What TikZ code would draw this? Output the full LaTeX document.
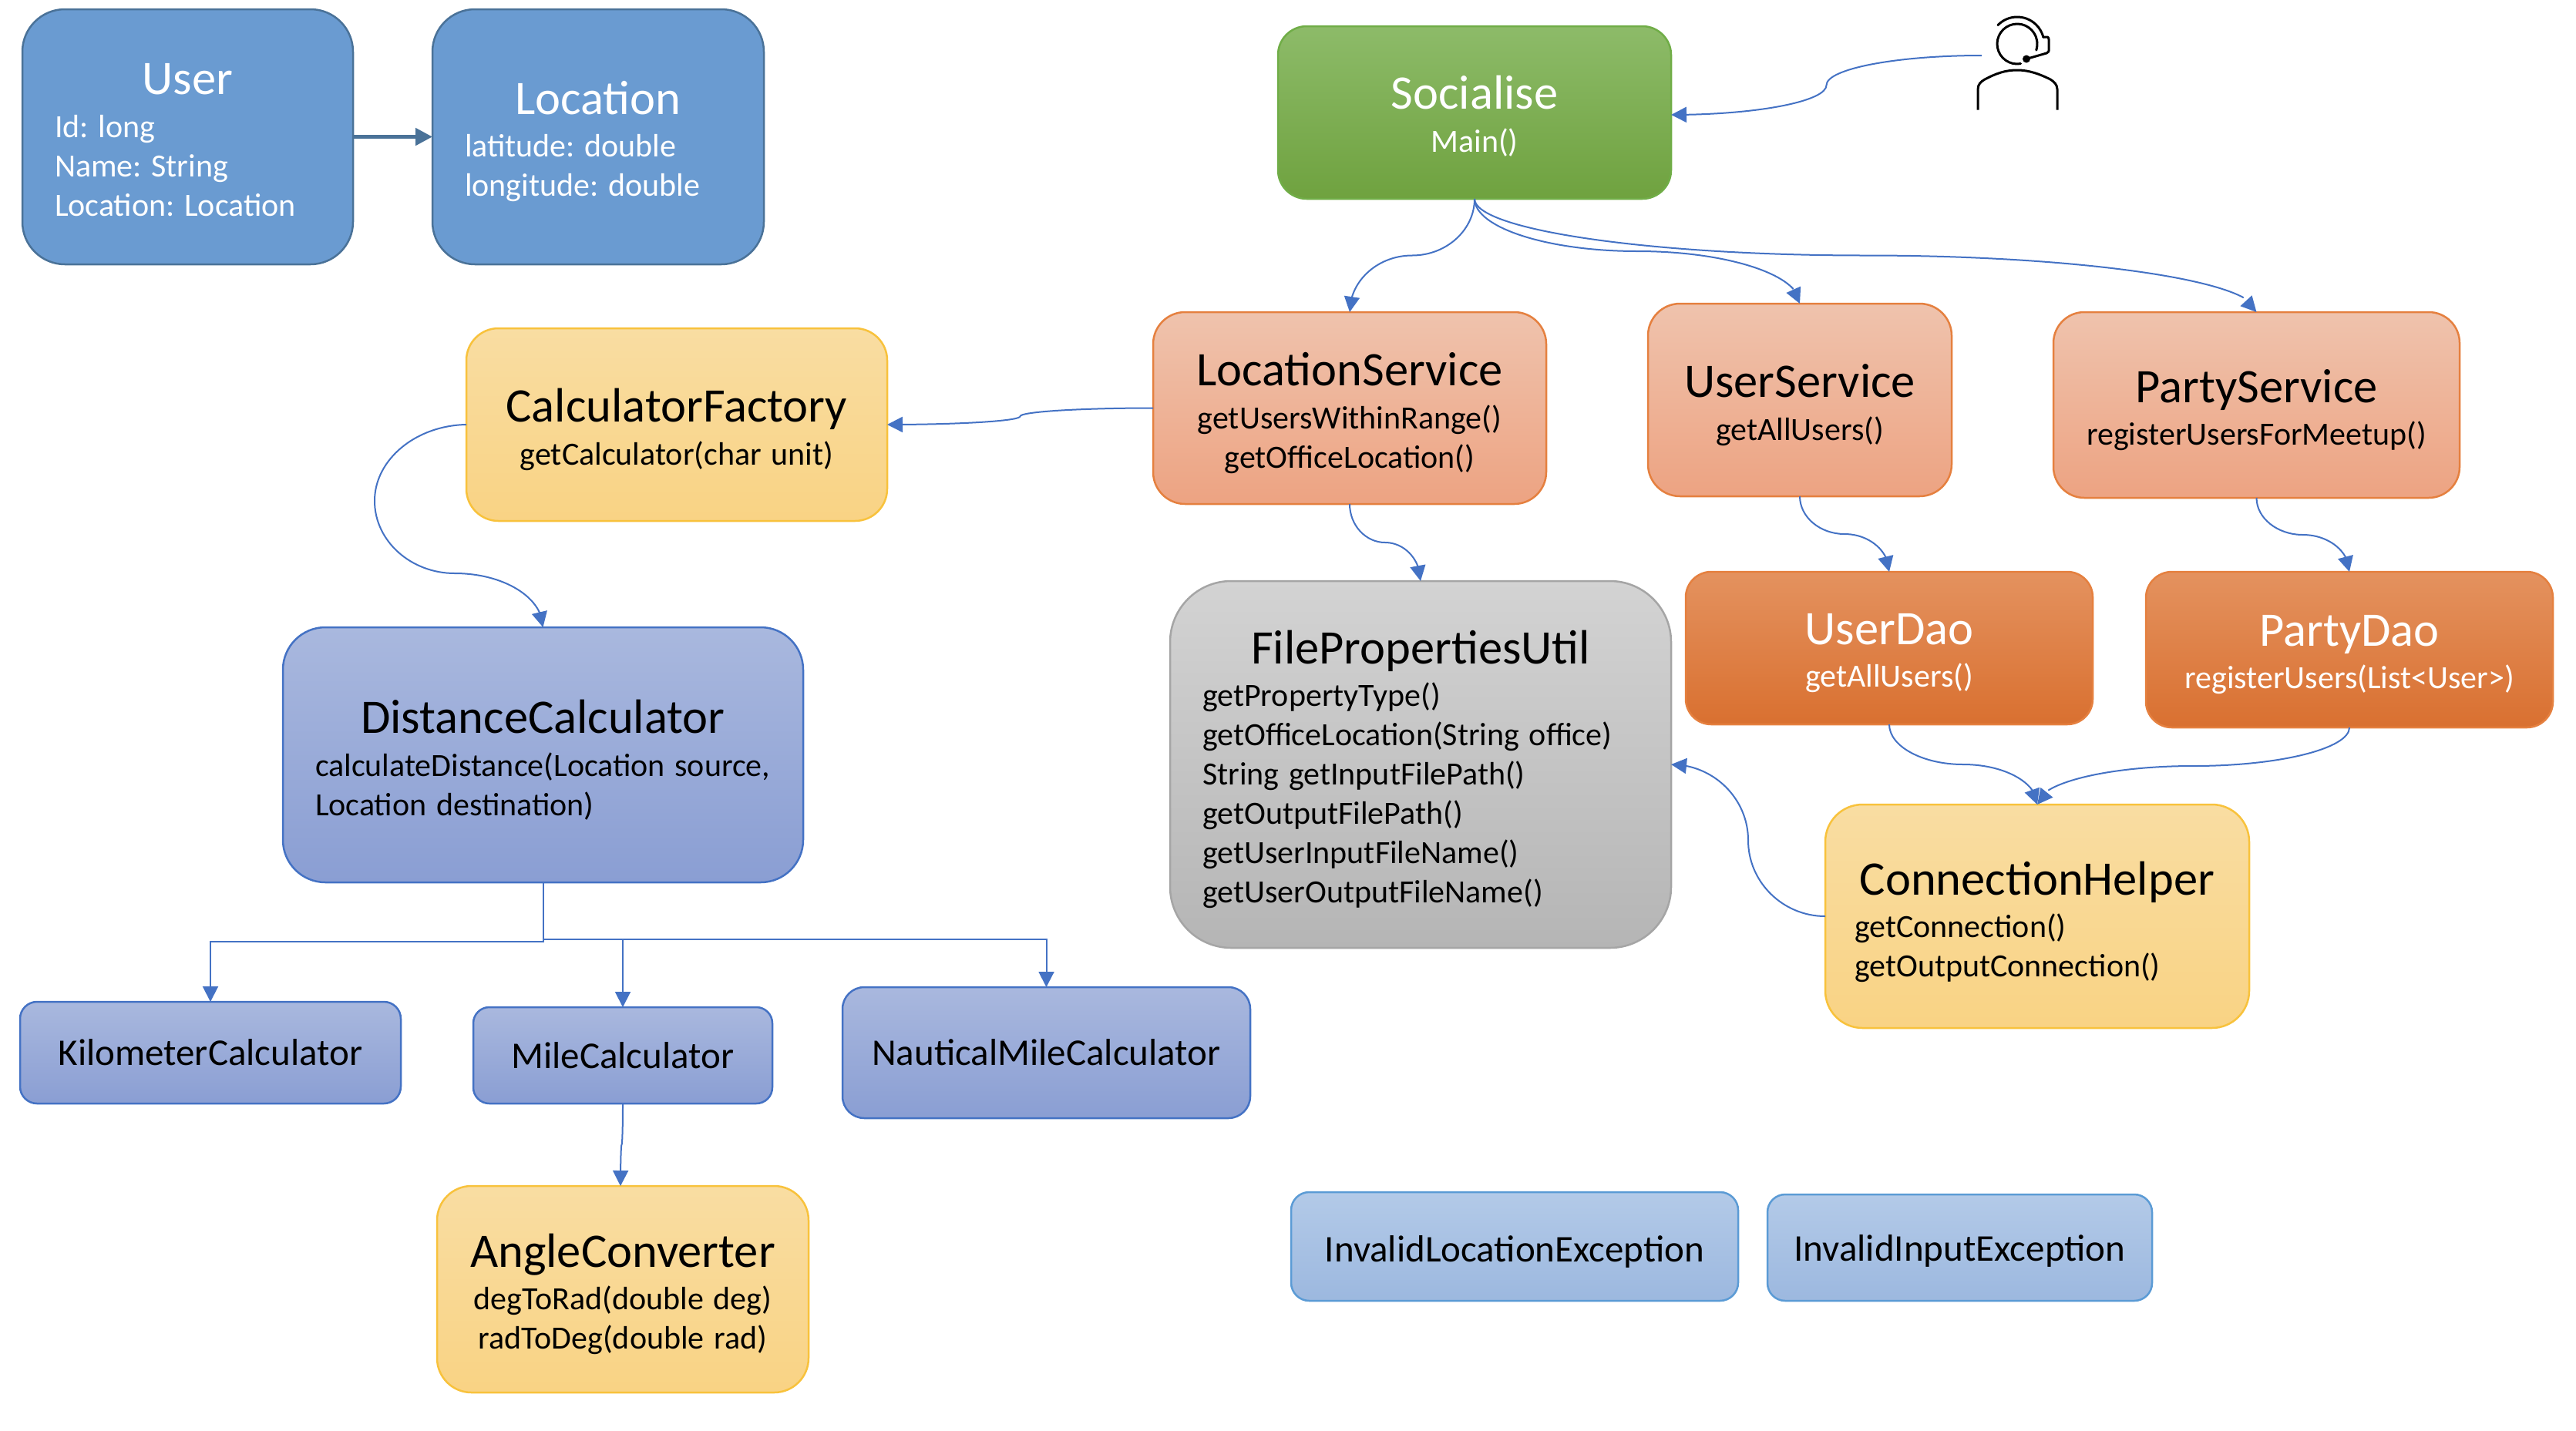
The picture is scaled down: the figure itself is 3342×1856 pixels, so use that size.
\documentclass[tikz,border=0pt]{standalone}
\usepackage{fontspec}
\setmainfont{Carlito}
\usetikzlibrary{arrows.meta,calc,bending}
\definecolor{connblue}{HTML}{4472C4}
\tikzset{
  conn/.style={draw=connblue,line width=2pt,-{Triangle[length=20pt,width=20pt]}},
  elbowline/.style={draw=connblue,line width=2pt,-{Triangle[length=20pt,width=20pt]}},
  thickconn/.style={draw=linkblue,line width=5pt,-{Triangle[length=22pt,width=22pt]}},
  basebox/.style={shape=rectangle,inner sep=0pt,outer sep=0pt,line width=2.5pt},
  flatblue/.style={basebox,fill=flatfill,draw=linkblue,text=white},
  greenbox/.style={basebox,top color=greenT,bottom color=greenB,draw=greenD,text=white},
  servicebox/.style={basebox,top color=servT,bottom color=servB,draw=orangeD},
  daobox/.style={basebox,top color=daoT,bottom color=daoB,draw=orangeD,text=white},
  yellowbox/.style={basebox,top color=yelT,bottom color=yelB,draw=yelD},
  lavbox/.style={basebox,top color=lavT,bottom color=lavB,draw=connblue},
  excbox/.style={basebox,top color=excT,bottom color=excB,draw=excD},
  greybox/.style={basebox,top color=greyT,bottom color=greyB,draw=greyD},
  person/.style={draw=black,line width=3pt,line cap=round,line join=round}
}
\definecolor{flatfill}{HTML}{6A9BD1}
\definecolor{linkblue}{HTML}{4A7298}
\definecolor{greenT}{HTML}{8DBB69}
\definecolor{greenB}{HTML}{6FA23F}
\definecolor{greenD}{HTML}{70AD47}
\definecolor{servT}{HTML}{EFC3AD}
\definecolor{servB}{HTML}{EDA382}
\definecolor{orangeD}{HTML}{E5803F}
\definecolor{daoT}{HTML}{E4925F}
\definecolor{daoB}{HTML}{D97030}
\definecolor{yelT}{HTML}{F9DDA2}
\definecolor{yelB}{HTML}{F9D384}
\definecolor{yelD}{HTML}{F8C23C}
\definecolor{lavT}{HTML}{A9B8DE}
\definecolor{lavB}{HTML}{8A9ED3}
\definecolor{excT}{HTML}{B3CAE8}
\definecolor{excB}{HTML}{9CB8DF}
\definecolor{excD}{HTML}{5B9BD5}
\definecolor{greyT}{HTML}{D3D3D3}
\definecolor{greyB}{HTML}{B5B5B5}
\definecolor{greyD}{HTML}{A5A5A5}
\newcommand\spc{\spaceskip=.30em\xspaceskip=.30em\relax}
\newcommand\TT[1]{{\centering\fontsize{62.5}{74}\selectfont\spc #1\par}\vspace{4.5pt}}
\newcommand\BC[1]{{\centering\fontsize{42}{51}\selectfont\spc #1\par}}
\newcommand\BL[1]{{\raggedright\fontsize{42}{51}\selectfont\spc #1\par}}
\newcommand\ONE[1]{{\centering\fontsize{49}{60}\selectfont\makebox[\linewidth]{#1}\par}}
% [lowering of the text], name, x1, y1, x2, y2, style, content
\newcommand\bx[8][2.5]{%
  \pgfmathsetmacro\bw{#5-#3}\pgfmathsetmacro\bh{#6-#4}%
  \pgfmathsetmacro\br{min(\bw,\bh)/6}%
  \pgfmathsetmacro\btw{\bw-84}%
  \node[#7,rounded corners=\br pt,minimum width=\bw pt,minimum height=\bh pt]
    (#2) at ({(#3+#5)/2},{(#4+#6)/2}) {\raisebox{-#1pt}[0pt][0pt]{\parbox{\btw pt}{#8}}};}
\newcommand\vcurve[2]{\draw[conn] let \p1=(#1),\p2=(#2),\n1={(\x1+\x2)/2},\n2={(\y1+\y2)/2} in
  (#1) .. controls (\x1,{\y1+0.55*(\n2-\y1)}) and ({\n1-0.55*(\n1-\x1)},\n2) .. (\n1,\n2)
  .. controls ({\n1+0.55*(\x2-\n1)},\n2) and (\x2,{\y2-0.55*(\y2-\n2)}) .. (#2);}
\newcommand\hcurve[2]{\draw[conn] let \p1=(#1),\p2=(#2),\n1={(\x1+\x2)/2},\n2={(\y1+\y2)/2} in
  (#1) .. controls ({\x1+0.55*(\n1-\x1)},\y1) and (\n1,{\n2-0.55*(\n2-\y1)}) .. (\n1,\n2)
  .. controls (\n1,{\n2+0.55*(\y2-\n2)}) and ({\x2-0.55*(\x2-\n1)},\y2) .. (#2);}
\newcommand\elbow[3]{\draw[elbowline] let \p1=(#1),\p2=(#2) in
  (#1) -- (\x1,#3) -- (\x2,#3) -- (#2);}
\begin{document}
\begin{tikzpicture}[x=1pt,y=-1pt]
\useasboundingbox (0,0) rectangle (3342,1856);
\bx[6.5]{user}{29}{12}{458}{343}{flatblue}{\TT{User}\BL{Id: long\\Name: String\\Location: Location}}
\bx[8.5]{loc}{561}{12}{991}{343}{flatblue}{\TT{Location}\BL{latitude: double\\longitude: double}}
\bx[7]{soc}{1658}{34}{2168}{258}{greenbox}{\TT{Socialise}\BC{Main()}}
\bx[9]{cf}{605}{426}{1151}{676}{yellowbox}{\TT{CalculatorFactory}\BC{getCalculator(char unit)}}
\bx[9]{ls}{1496}{405}{2006}{654}{servicebox}{\TT{LocationService}\BC{getUsersWithinRange()\\getOfficeLocation()}}
\bx[9]{us}{2138}{394}{2532}{644}{servicebox}{\TT{UserService}\BC{getAllUsers()}}
\bx[9]{ps}{2664}{405}{3191}{646}{servicebox}{\TT{PartyService}\BC{registerUsersForMeetup()}}
\bx[9]{ud}{2187}{742}{2715}{940}{daobox}{\TT{UserDao}\BC{getAllUsers()}}
\bx[9]{pd}{2784}{742}{3312}{944}{daobox}{\TT{PartyDao}\BC{registerUsers(List<User>)}}
\bx[9]{fpu}{1518}{754}{2168}{1230}{greybox}{\TT{FilePropertiesUtil}\BL{getPropertyType()\\getOfficeLocation(String office)\\String getInputFilePath()\\getOutputFilePath()\\getUserInputFileName()\\getUserOutputFileName()}}
\bx[10]{ch}{2368}{1044}{2918}{1334}{yellowbox}{\TT{ConnectionHelper}\BL{\hspace*{-4pt}getConnection()\\\hspace*{-4pt}getOutputConnection()}}
\bx[9]{dc}{367}{814}{1042}{1145}{lavbox}{\TT{DistanceCalculator}\BL{\mbox{calculateDistance(Location source,}\\Location destination)}}
\bx{km}{26}{1300}{520}{1432}{lavbox}{\ONE{KilometerCalculator}}
\bx{mi}{614}{1307}{1002}{1432}{lavbox}{\ONE{MileCalculator}}
\bx{nm}{1093}{1281}{1622}{1451}{lavbox}{\ONE{NauticalMileCalculator}}
\bx[9]{ang}{567}{1539}{1049}{1807}{yellowbox}{\TT{AngleConverter}\BC{degToRad(double deg)\\radToDeg(double rad)}}
\bx[9]{ile}{1675}{1547}{2255}{1688}{excbox}{\ONE{InvalidLocationException}}
\bx[6.5]{iie}{2293}{1550}{2792}{1688}{excbox}{\ONE{InvalidInputException}}
% person
\coordinate (agent) at (2571,72);
\coordinate (headc) at (2617,57);
\draw[person] ($(headc)+(-80:26pt)$) arc[start angle=-80,end angle=-378,radius=26pt];
\draw[person] ($(headc)+(136:35pt)$) arc[start angle=136,end angle=14,radius=35pt];
\draw[person] (2652,48) -- (2656,48) .. controls (2657,48) and (2658,49) .. (2658,51) -- (2658,66) .. controls (2658,67) and (2657,68) .. (2655,69) -- (2629,76.5);
\fill (2629,76.5) circle[radius=5pt];
\draw[draw=black,line width=3pt] (2566,142.5) -- (2566,116) .. controls (2566,109) and (2570,106) .. (2575,103) .. controls (2590,95) and (2602,91) .. (2617,91) .. controls (2632,91) and (2646,96) .. (2660,103) .. controls (2665,106) and (2669,110) .. (2669,116) -- (2669,142.5);
% connectors
\draw[thickconn] (user.east) -- (loc.west);
\coordinate (socin) at (2168,149);
\hcurve{agent}{socin}
\vcurve{soc.south}{ls.north}
\vcurve{soc.south}{us.north}
\vcurve{soc.south}{ps.north}
\hcurve{ls.west}{cf.east}
\vcurve{ls.south}{fpu.north}
\vcurve{us.south}{ud.north}
\vcurve{ps.south}{pd.north}
\vcurve{ud.south}{ch.north}
\vcurve{pd.south}{ch.north}
\hcurve{ch.west}{fpu.east}
\coordinate (cfa) at (486,650);
\coordinate (cfb) at (590,744);
\draw[conn] (cf.west) .. controls (540,552) and (486,596) .. (cfa) .. controls (486,702) and (533,744) .. (cfb) .. controls (653,744) and (704,775) .. (dc.north);
\elbow{dc.south}{km.north}{1222}
\elbow{dc.south}{mi.north}{1219}
\elbow{dc.south}{nm.north}{1219}
\coordinate (angin) at (805,1539);
\vcurve{mi.south}{angin}
\end{tikzpicture}
\end{document}
